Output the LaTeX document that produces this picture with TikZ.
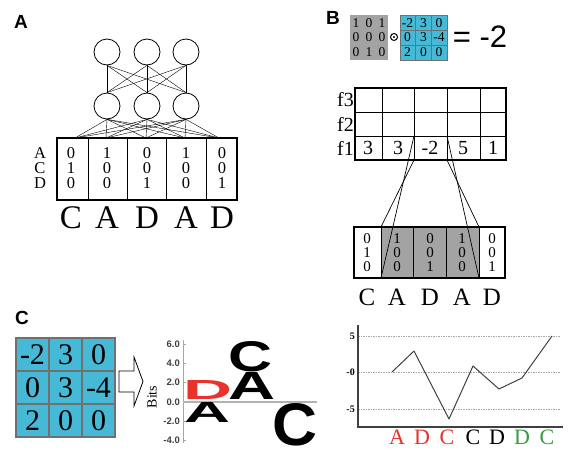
\documentclass[tikz,border=0pt]{standalone}
\usepackage{fontspec}
\setmainfont{Liberation Serif}
\newfontfamily\lsans{Liberation Sans}
\usepackage{graphicx}
\definecolor{cyanbox}{HTML}{45B9D6}
\definecolor{grayfill}{HTML}{A3A3A3}
\definecolor{logored}{HTML}{E8322B}
\definecolor{chgreen}{HTML}{3A9A40}
\definecolor{gridgray}{HTML}{707070}
\tikzset{
  panel/.style={inner sep=0, font=\lsans\bfseries\fontsize{19}{19}\selectfont},
  neuron/.style={circle, draw, line width=0.8pt, minimum size=26pt, inner sep=0},
  wire/.style={line width=0.4pt},
  thickbox/.style={line width=1.4pt},
  thinline/.style={line width=0.7pt},
  digA/.style={inner sep=0, font=\fontsize{16.5}{16.5}\selectfont},
  digB/.style={inner sep=0, font=\fontsize{15}{15}\selectfont},
  digS/.style={inner sep=0, font=\fontsize{13.5}{13.5}\selectfont},
  bigletA/.style={inner sep=0, font=\fontsize{33}{33}\selectfont},
  bigletB/.style={inner sep=0, font=\fontsize{25}{25}\selectfont},
  flabel/.style={inner sep=0, anchor=east, font=\fontsize{20}{20}\selectfont},
  fval/.style={inner sep=0, font=\fontsize{20}{20}\selectfont},
  cdig/.style={inner sep=0, font=\fontsize{30}{30}\selectfont},
  logo/.style={inner sep=0, font=\lsans\bfseries},
  tick/.style={inner sep=0, anchor=east, text=black!75, font=\lsans\bfseries\fontsize{9.5}{9.5}\selectfont},
  chlet/.style={inner sep=0, font=\fontsize{22}{22}\selectfont},
  chtick/.style={inner sep=0, anchor=east, font=\bfseries\fontsize{10}{10}\selectfont},
}
\begin{document}
\begin{tikzpicture}[x=1pt,y=-1pt]
\useasboundingbox (0,0) rectangle (576,458);
% ================= Panel A =================
\node[panel] (labA) at (21,22) {A};
\foreach \i/\x in {1/107,2/147,3/186}{
  \node[neuron] (t\i) at (\x,52) {};
  \node[neuron] (h\i) at (\x,106) {};
}
\foreach \j/\x in {1/75,2/106,3/146,4/185,5/219}{
  \coordinate (p\j) at (\x,138);
}
\foreach \i in {1,2,3}{
  \foreach \j in {1,2,3}{ \draw[wire] (t\i.south) -- (h\j.north); }
  \foreach \j in {1,...,5}{ \draw[wire] (h\i.south) -- (p\j); }
}
\draw[thickbox] (57,138) rectangle (237,200);
\foreach \x in {88,127,166,206}{ \draw[thinline] (\x,138) -- (\x,200); }
\foreach \r/\y in {A/153,C/168,D/183}{ \node[digA] (ra\r) at (40,\y) {\r}; }
\foreach \c/\x/\a/\b/\d/\L in {1/71/0/1/0/C,2/107/1/0/0/A,3/147/0/0/1/D,4/186/1/0/0/A,5/222/0/0/1/D}{
  \node[digA] (a\c r1) at (\x,153) {\a};
  \node[digA] (a\c r2) at (\x,168) {\b};
  \node[digA] (a\c r3) at (\x,183) {\d};
  \node[bigletA] (aL\c) at (\x,218) {\L};
}
% ================= Panel B =================
\node[panel] (labB) at (333,18) {B};
\fill[grayfill] (350,15) rectangle (388,60);
\foreach \row/\y/\a/\b/\c in {1/23/1/0/1,2/37/0/0/0,3/52/0/1/0}{
  \node[digS] (g\row a) at (356,\y) {\a};
  \node[digS] (g\row b) at (369,\y) {\b};
  \node[digS] (g\row c) at (382,\y) {\c};
}
\node[circle, draw, line width=1pt, minimum size=7pt, inner sep=0] (odot) at (394,37) {};
\fill (odot.center) circle (1.1pt);
\fill[cyanbox] (400,15) rectangle (447,60);
\foreach \x in {415.7,431.3}{ \draw[gridgray, line width=0.8pt] (\x,15) -- (\x,60); }
\foreach \y in {30,45}{ \draw[gridgray, line width=0.8pt] (400,\y) -- (447,\y); }
\draw[gridgray, line width=0.8pt] (400,15) rectangle (447,60);
\foreach \row/\y/\a/\b/\c in {1/23/-2/3/0,2/37/0/3/-4,3/52/2/0/0}{
  \node[digS] (k\row a) at (407.5,\y) {\a};
  \node[digS] (k\row b) at (423.5,\y) {\b};
  \node[digS] (k\row c) at (439,\y) {\c};
}
\node[inner sep=0, font=\lsans\fontsize{31}{31}\selectfont] (res) at (480,37) {= -2};
% f grid
\draw[thickbox] (355,88) rectangle (506,160);
\foreach \y in {112,136}{ \draw[thinline] (355,\y) -- (506,\y); }
\foreach \x in {382,414,447,480}{ \draw[thinline] (\x,88) -- (\x,160); }
\node[flabel] (f3) at (354,100) {f3};
\node[flabel] (f2) at (354,124) {f2};
\node[flabel] (f1) at (354,148) {f1};
\foreach \i/\x/\v in {1/368/3,2/398/3,3/430/-2,4/463/5,5/493/1}{
  \node[fval] (fv\i) at (\x,148) {\v};
}
% lower box
\fill[grayfill] (381,227) rectangle (479,278);
\draw[thickbox] (354,227) rectangle (505,278);
\foreach \x in {381,413,446,479}{ \draw[thinline] (\x,227) -- (\x,278); }
\foreach \c/\x/\a/\b/\d/\L in {1/367/0/1/0/C,2/397/1/0/0/A,3/430/0/0/1/D,4/462/1/0/0/A,5/492/0/0/1/D}{
  \node[digB] (b\c r1) at (\x,239) {\a};
  \node[digB] (b\c r2) at (\x,253) {\b};
  \node[digB] (b\c r3) at (\x,267) {\d};
  \node[bigletB] (bL\c) at (\x,297) {\L};
}
\coordinate (ftl) at (414,136); \coordinate (fbl) at (414,160);
\coordinate (ftr) at (447,136); \coordinate (fbr) at (447,160);
\coordinate (gtl) at (381,227); \coordinate (gbl) at (381,278);
\coordinate (gtr) at (479,227); \coordinate (gbr) at (479,278);
\draw[thinline] (ftl) -- (gbl);
\draw[thinline] (fbl) -- (gtl);
\draw[thinline] (ftr) -- (gbr);
\draw[thinline] (fbr) -- (gtr);
% ================= Panel C =================
\node[panel] (labC) at (22,318) {C};
\fill[cyanbox] (16,338) rectangle (115,437);
\foreach \x in {49,82}{ \draw[gridgray, line width=1.2pt] (\x,338) -- (\x,437); }
\foreach \y in {371,404}{ \draw[gridgray, line width=1.2pt] (16,\y) -- (115,\y); }
\draw[gridgray, line width=1.2pt] (16,338) rectangle (115,437);
\foreach \row/\y/\a/\b/\c in {1/355/-2/3/0,2/388/0/3/-4,3/421/2/0/0}{
  \node[cdig] (m\row a) at (32.5,\y) {\a};
  \node[cdig] (m\row b) at (65.5,\y) {\b};
  \node[cdig] (m\row c) at (98.5,\y) {\c};
}
\draw[line width=0.8pt, fill=white] (119,371) -- (134,371) -- (134,357) -- (143,381.5)
  -- (134,406) -- (134,392) -- (119,392) -- cycle;
\node[inner sep=0, rotate=90, font=\fontsize{14}{14}\selectfont] (bits) at (152,397) {Bits};
% logo axis
\draw[gray!70, line width=0.8pt] (183,340) -- (183,443);
\foreach \v/\y in {6.0/344,4.0/363,2.0/382,0.0/402,-2.0/421,-4.0/440}{
  \node[tick] (tk\y) at (180,\y) {\v};
  \draw[gray!70, line width=0.6pt] (183,\y) -- (186,\y);
}
\draw[gray!60, line width=1.2pt] (183,402) -- (317,402);
\node[logo, anchor=south west, text=logored] (lD) at (183,400) {\resizebox{49pt}{19pt}{D}};
\node[logo, anchor=north west] (lA1) at (184,402) {\resizebox{46pt}{20pt}{A}};
\node[logo, anchor=south west] (lA2) at (228,400) {\resizebox{47pt}{27pt}{A}};
\node[logo, anchor=south west] (lC1) at (228,372) {\resizebox{44pt}{30pt}{C}};
\node[logo, anchor=north west] (lC2) at (272,403) {\resizebox{45pt}{42pt}{C}};
% line chart
\foreach \y in {336,372,409}{ \draw[gray!70, dash pattern=on 1.5pt off 1pt, line width=0.8pt] (358,\y) -- (560,\y); }
\draw[black!75, line width=1.2pt] (358,325) -- (358,427) -- (563,427);
\node[chtick] (yt5) at (355,336) {5};
\node[chtick] (yt0) at (355,372) {-0};
\node[chtick] (ytm5) at (355,409) {-5};
\coordinate (c1) at (392,372);
\coordinate (c2) at (414,351);
\coordinate (c3) at (449,419);
\coordinate (c4) at (473,366);
\coordinate (c5) at (499,389);
\coordinate (c6) at (522,378);
\coordinate (c7) at (552,336);
\draw[black!75, line width=1pt, line join=round] (c1) -- (c2) -- (c3) -- (c4) -- (c5) -- (c6) -- (c7);
\node[chlet, text=logored] (x1) at (397,437) {A};
\node[chlet, text=logored] (x2) at (422,437) {D};
\node[chlet, text=logored] (x3) at (447,437) {C};
\node[chlet] (x4) at (473,437) {C};
\node[chlet] (x5) at (497,437) {D};
\node[chlet, text=chgreen] (x6) at (522,437) {D};
\node[chlet, text=chgreen] (x7) at (547,437) {C};
\end{tikzpicture}
\end{document}
